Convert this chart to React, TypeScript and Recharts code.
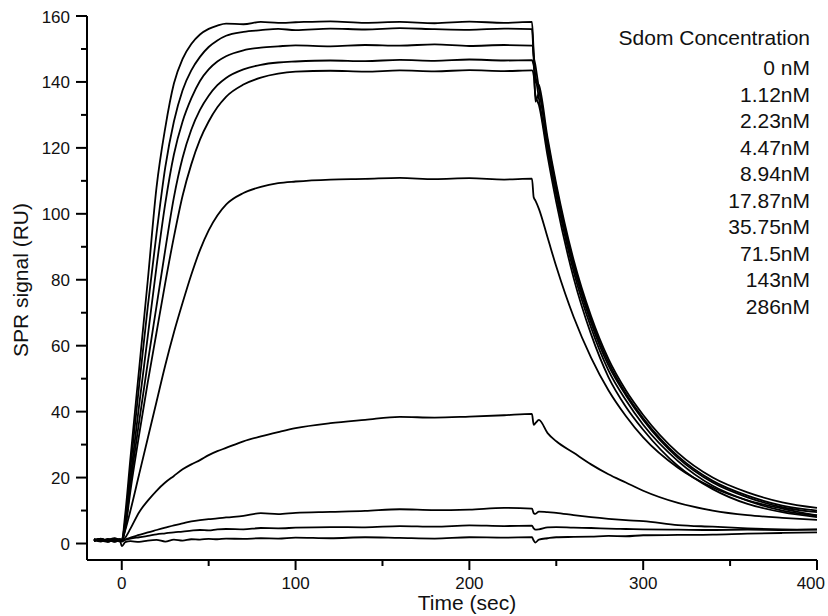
import { Label, Line, LineChart, XAxis, YAxis } from 'recharts';

const FONT = '"Liberation Sans", Arial, Helvetica, sans-serif';
const INK = '#111111';

// time points (sec)
const time = [
  -16, -12, -8, -4, -1, 0, 2, 5, 10, 15, 20, 25, 30, 35, 40, 45, 50, 55, 60, 70, 80, 90, 100,
  120, 140, 160, 180, 200, 220, 236, 237, 238, 240, 245, 250, 260, 270, 280, 290, 300, 320,
  340, 360, 380, 400,
];

// SPR response (RU) per Sdom concentration
const nM0 = [
  1.0, 1.5, 0.6, 1.3, 0.9, -0.8, 0.4, 0.7, 0.5, 0.9, 1.1, 0.6, 1.2, 0.9, 1.3, 1.2, 1.4, 1.3, 1.5,
  1.4, 1.6, 1.5, 1.8, 1.6, 1.9, 1.7, 1.5, 1.9, 1.8, 1.9, 0.9, 0.3, 1.2, 1.6, 1.9, 2.0, 2.1, 2.3,
  2.2, 2.5, 2.6, 2.7, 3.0, 3.2, 3.4,
];
const nM1_12 = [
  0.8, 1.4, 0.9, 1.2, 0.7, 0.9, 1.1, 1.5, 1.9, 2.3, 2.8, 3.1, 3.4, 3.6, 3.9, 4.1, 4.0, 4.3, 4.4,
  4.3, 4.7, 4.6, 4.8, 5.0, 4.9, 5.3, 5.1, 5.5, 5.3, 5.4, 4.6, 4.2, 4.3, 4.9, 5.0, 4.8, 4.7, 4.5,
  4.4, 4.3, 4.2, 4.1, 4.2, 4.1, 4.3,
];
const nM2_23 = [
  1.3, 0.7, 1.1, 1.6, 0.9, 0.6, 1.2, 1.8, 2.6, 3.4, 4.1, 4.8, 5.5, 6.1, 6.7, 7.1, 7.4, 7.6, 7.9,
  8.4, 9.2, 8.9, 9.3, 9.6, 9.9, 10.4, 10.1, 10.3, 10.8, 10.6, 9.2, 9.0, 9.7, 9.5, 9.3, 8.6, 8.0,
  7.5, 7.1, 6.8, 5.6, 5.1, 4.6, 4.3, 4.2,
];
const nM4_47 = [
  0.8, 1.3, 1.0, 0.6, 1.2, 0.9, 1.8, 4.5, 9.5, 13, 16, 18.5, 20.5, 22.5, 24, 25.3, 26.8, 28, 29,
  31, 32.5, 33.8, 35, 36.5, 37.5, 38.4, 38.2, 38.5, 38.9, 39.3, 36, 36.5, 37.5, 33.5, 31, 27.5,
  24, 21, 18.5, 16, 12.3, 10, 8.6, 7.8, 7.2,
];
const nM8_94 = [
  1.0, 1.4, 0.6, 1.2, 0.9, 1.0, 4, 10, 21, 32, 43, 54, 64, 73, 81.5, 89, 95, 99.5, 102.8, 106.3,
  108.2, 109.3, 109.8, 110.4, 110.6, 110.9, 110.5, 110.8, 110.4, 110.7, 105, 104, 101.5, 92.8,
  84, 68.7, 56.4, 46.5, 38.7, 32.2, 23, 17, 13.1, 10.6, 8.5,
];
const nM17_87 = [
  1.2, 0.9, 0.5, 1.1, 1.4, 0.8, 4.5, 16, 33, 49, 64, 79, 93, 105.5, 115, 122.5, 128, 132.3,
  135.5, 139.2, 141.3, 142.5, 143.1, 143.4, 143.1, 143.5, 143.2, 143.6, 143.3, 143.5, 142, 136,
  133, 117.5, 103.5, 80.5, 63.5, 50.5, 41.5, 34.5, 23.5, 16.5, 12, 9.5, 8,
];
const nM35_75 = [
  0.7, 1.2, 0.9, 1.3, 0.6, 0.9, 5, 18, 37, 55, 72, 89, 105, 117, 125.5, 131.5, 135.8, 139,
  141.2, 143.8, 145.2, 145.9, 146.2, 146.5, 146.3, 146.7, 146.4, 146.8, 146.5, 146.6, 145, 142,
  135, 119.5, 105.5, 82.5, 65.5, 52.5, 43.5, 36, 25, 17.5, 13, 10, 8.5,
];
const nM71_5 = [
  1.1, 0.6, 1.4, 1.0, 0.8, 0.7, 6, 20, 42, 63, 84, 103, 118, 128, 135, 140.3, 143.8, 146.2,
  147.8, 149.6, 150.4, 150.8, 151.1, 150.8, 151.2, 151.0, 151.4, 150.9, 151.2, 151.0, 147, 134,
  136.5, 121, 107, 84, 67, 54, 45, 37.5, 26, 18.5, 14, 11, 9.5,
];
const nM143 = [
  0.9, 1.3, 0.7, 1.5, 1.0, 1.2, 7, 23, 48, 72, 94, 114, 128, 137.5, 143.5, 147.6, 150.6, 152.6,
  154, 155.2, 155.7, 156.1, 155.7, 156.2, 155.9, 156.3, 156.0, 155.8, 156.2, 156.0, 148, 145,
  138, 122, 108, 85, 68, 55, 45.5, 38, 26.5, 19, 14.5, 11.5, 10,
];
const nM286 = [
  1.4, 0.8, 1.2, 0.5, 1.1, 1.0, 9, 26, 53, 80, 108, 126, 139.5, 147, 151.5, 154.4, 156.1,
  157.1, 157.7, 157.5, 158.2, 157.9, 158.1, 158.4, 157.9, 158.2, 157.8, 158.3, 157.9, 158.2, 149,
  140, 139, 123, 109, 86, 69, 56, 46.5, 39, 27.5, 20, 15.5, 12.5, 10.8,
];

const concentrations = [
  '0 nM', '1.12nM', '2.23nM', '4.47nM', '8.94nM', '17.87nM', '35.75nM', '71.5nM', '143nM', '286nM',
];
const seriesValues = [nM0, nM1_12, nM2_23, nM4_47, nM8_94, nM17_87, nM35_75, nM71_5, nM143, nM286];

const xTicks = [0, 50, 100, 150, 200, 250, 300, 350, 400];
const yTicks = [0, 10, 20, 30, 40, 50, 60, 70, 80, 90, 100, 110, 120, 130, 140, 150, 160];

const data = time.map((t, i) => {
  const row: Record<string, number> = { time: t };
  seriesValues.forEach((vals, k) => {
    row[`s${k}`] = vals[i];
  });
  return row;
});

function XTick({ x, y, payload }: any) {
  const major = payload.value % 100 === 0;
  // last label sits a little inside the frame, as in the original
  const last = payload.value === 400;
  return (
    <g>
      <line x1={x} y1={y} x2={x} y2={y + (major ? 10 : 6)} stroke="#000" strokeWidth={2} />
      {major && (
        <text
          x={last ? x + 8 : x}
          y={y + 28.5}
          textAnchor={last ? 'end' : 'middle'}
          fontSize={17}
          fontFamily={FONT}
          fill={INK}
        >
          {payload.value}
        </text>
      )}
    </g>
  );
}

function YTick({ x, y, payload }: any) {
  const major = payload.value % 20 === 0;
  return (
    <g>
      <line x1={x} y1={y} x2={x - (major ? 11 : 6)} y2={y} stroke="#000" strokeWidth={2} />
      {major && (
        <text x={x - 17} y={y + 6.5} textAnchor="end" fontSize={17} fontFamily={FONT} fill={INK}>
          {payload.value}
        </text>
      )}
    </g>
  );
}

export default function App() {
  return (
    <div style={{ position: 'absolute', left: 0, top: 0, width: 828, height: 616, background: '#fff' }}>
      <LineChart
        width={828}
        height={616}
        data={data}
        margin={{ top: 16, right: 11, left: 27, bottom: 16 }}
      >
        <XAxis
          dataKey="time"
          type="number"
          domain={[-20, 400]}
          ticks={xTicks}
          interval={0}
          height={40}
          tickSize={0}
          tickMargin={0}
          tickLine={false}
          tick={<XTick />}
          axisLine={{ stroke: '#000', strokeWidth: 2 }}
        >
          <Label
            content={() => (
              <text x={467} y={610} textAnchor="middle" fontSize={21} fontFamily={FONT} fill={INK}>
                Time (sec)
              </text>
            )}
          />
        </XAxis>
        <YAxis
          type="number"
          domain={[-5, 160]}
          ticks={yTicks}
          interval={0}
          width={60}
          tickSize={0}
          tickMargin={0}
          tickLine={false}
          tick={<YTick />}
          axisLine={{ stroke: '#000', strokeWidth: 2 }}
        >
          <Label
            content={() => (
              <text
                x={28}
                y={280}
                transform="rotate(-90 28 280)"
                textAnchor="middle"
                fontSize={21}
                fontFamily={FONT}
                fill={INK}
              >
                SPR signal (RU)
              </text>
            )}
          />
        </YAxis>
        {concentrations.map((name, k) => (
          <Line
            key={name}
            dataKey={`s${k}`}
            name={name}
            type="monotone"
            stroke="#000"
            strokeWidth={1.8}
            dot={false}
            activeDot={false}
            isAnimationActive={false}
          />
        ))}
      </LineChart>
      <div
        style={{
          position: 'absolute',
          right: 18,
          top: 25,
          textAlign: 'right',
          fontFamily: FONT,
          fontSize: 21,
          lineHeight: '26.5px',
          color: INK,
        }}
      >
        <div style={{ marginBottom: 3.5 }}>Sdom Concentration</div>
        {concentrations.map((c) => (
          <div key={c}>{c}</div>
        ))}
      </div>
    </div>
  );
}
